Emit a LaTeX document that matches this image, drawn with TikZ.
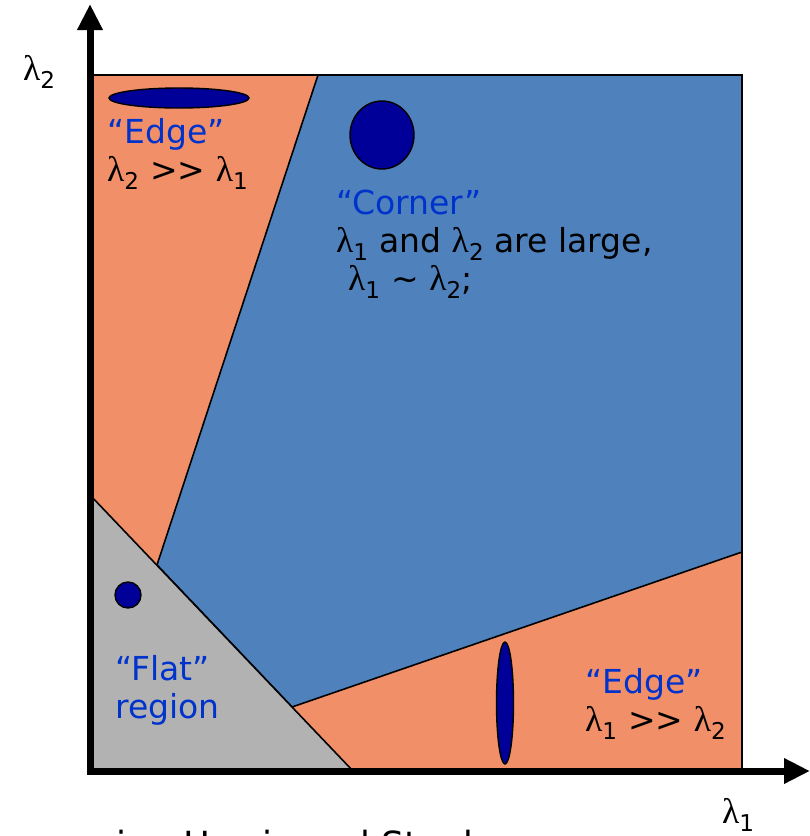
\documentclass[tikz,border=0pt]{standalone}
\usepackage{fontspec}
\setmainfont{DejaVu Sans}
\newfontfamily\greekfont[Scale=1.08]{Liberation Serif}
\usetikzlibrary{arrows.meta}
\definecolor{salmon}{RGB}{241,143,104}
\definecolor{steel}{RGB}{79,129,189}
\definecolor{flatgray}{RGB}{178,178,178}
\definecolor{navy}{RGB}{0,0,153}
\definecolor{tagblue}{RGB}{0,51,204}
\newcommand{\lam}[1]{{\greekfont λ}\textsubscript{#1}}
\begin{document}
\begin{tikzpicture}[
  x=1pt, y=-1pt,
  region/.style={draw, line width=1.6pt, line join=miter},
  blob/.style={draw, line width=1.4pt, fill=navy},
  lbl/.style={anchor=base west, align=left, inner sep=0pt, font=\fontsize{33}{38}\selectfont},
  axis/.style={line width=7pt, line join=miter, {Triangle[width=24pt,length=26pt]}-{Triangle[width=24pt,length=26pt]}}
]
  \useasboundingbox (0,0) rectangle (810,836);
  \coordinate (o) at (90,771);
  \coordinate (xend) at (810,771);
  \coordinate (yend) at (90,4);

  \fill[salmon] (90,75) rectangle (742,771);
  \draw[region, fill=steel] (318,75) -- (742,75) -- (742,552) -- (292,707) -- (157,565) -- cycle;
  \draw[region, fill=flatgray] (90,495) -- (353,771) -- (90,771) -- cycle;
  \draw[region] (90,75) rectangle (742,771);

  \draw[blob] (179,98) ellipse [x radius=70pt, y radius=10pt];
  \draw[blob] (382,135) ellipse [x radius=32pt, y radius=34pt];
  \draw[blob] (128,595) circle [radius=13pt];
  \draw[blob] (505,703) ellipse [x radius=8.5pt, y radius=61pt];

  \node[lbl] (edgeup) at (107,181) {\textcolor{tagblue}{“Edge”}\\\lam{2} >{}> \lam{1}};
  \node[lbl] (corner) at (336,290) {\textcolor{tagblue}{“Corner”}\\\lam{1} and \lam{2} are large,\\\hspace*{12pt}\lam{1} \textasciitilde{} \lam{2};};
  \node[lbl, text=tagblue] (flat) at (115,718) {“Flat”\\region};
  \node[lbl] (edgelow) at (585,731) {\textcolor{tagblue}{“Edge”}\\\lam{1} >{}> \lam{2}};

  \node[lbl] (ylab) at (23,80) {\lam{2}};
  \node[lbl] (xlab) at (722,823) {\lam{1}};
  \node[lbl, font=\fontsize{36}{40}\selectfont] (caption) at (75,857) {using Harris and Stephens};

  \draw[axis] (xend) -- (o) -- (yend);
\end{tikzpicture}
\end{document}
